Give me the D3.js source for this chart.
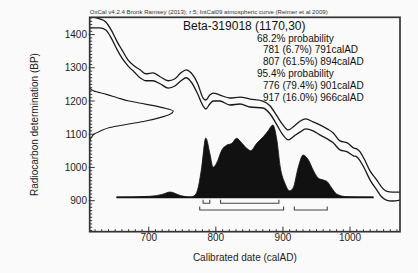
<!DOCTYPE html>
<html>
<head>
<meta charset="utf-8">
<script src="https://cdn.jsdelivr.net/npm/d3@7"></script>
<style>
    body { margin: 0; background: #fafafa; }
    svg { display: block; font-family: "Liberation Sans", Arial, sans-serif; }
</style>
</head>
<body>
<div id="chart"></div>
<script>
// calibration curve (IntCal09), upper and lower edges of the band
const calYears = [612, 627, 636, 644, 653, 660, 669, 678, 687, 696, 706, 717, 729, 739, 748, 756, 763, 773, 781, 785,
    791, 796, 806, 821, 836, 851, 870, 881, 891, 900, 908, 917, 926, 934, 945, 955, 966, 975, 985, 996,
    1005, 1010, 1015, 1021, 1030, 1040, 1046, 1054, 1063, 1075];
const calUpper = [1453, 1447, 1438, 1414, 1378, 1354, 1324, 1306, 1294, 1282, 1285, 1273, 1261, 1267, 1285, 1294, 1285, 1252, 1209, 1203,
    1218, 1224, 1218, 1209, 1212, 1206, 1200, 1185, 1155, 1128, 1113, 1125, 1140, 1146, 1137, 1128, 1116, 1104, 1080, 1074,
    1059, 1056, 1047, 1026, 989, 962, 944, 929, 926, 926];
const calLower = [1420, 1420, 1414, 1390, 1354, 1330, 1306, 1288, 1270, 1261, 1261, 1252, 1239, 1245, 1261, 1270, 1258, 1221, 1185, 1176,
    1191, 1200, 1200, 1188, 1191, 1182, 1179, 1161, 1128, 1098, 1083, 1095, 1107, 1116, 1110, 1098, 1086, 1074, 1053, 1047,
    1035, 1032, 1020, 999, 962, 932, 914, 902, 899, 902];

// radiocarbon date 1170 +/- 30 BP
const dateBP = [1240, 1230, 1220, 1210, 1200, 1190, 1180, 1170, 1160, 1150, 1140, 1130, 1120, 1110, 1100, 1090, 1080];
const dateProb = [0, 0.05, 0.2, 0.33, 0.47, 0.68, 0.87, 1, 0.96, 0.84, 0.67, 0.45, 0.24, 0.13, 0.05, 0.02, 0];

// calibrated distribution
const probYears = [652, 702, 720, 732, 747, 762, 769, 774, 779, 785, 791, 796, 801, 809, 816, 824, 831, 839, 846, 852,
    861, 871, 878, 885, 891, 896, 903, 910, 915, 923, 930, 938, 945, 953, 960, 966, 973, 980, 995, 1035];
const probValues = [0, 0.014, 0.04, 0.073, 0.025, 0.004, 0.03, 0.147, 0.42, 0.82, 0.61, 0.415, 0.47, 0.654, 0.72, 0.747, 0.816, 0.747, 0.678, 0.645,
    0.747, 0.84, 0.92, 1, 0.79, 0.42, 0.194, 0.09, 0.125, 0.42, 0.585, 0.516, 0.378, 0.263, 0.24, 0.216, 0.125, 0.046, 0.008, 0];

const ranges68 = [[781, 791], [807, 894]];
const ranges95 = [[776, 901], [917, 966]];

const xTicks = [700, 800, 900, 1000];
const yTicks = [900, 1000, 1100, 1200, 1300, 1400];

const headerText = "OxCal v4.2.4 Bronk Ramsey (2013); r:5; IntCal09 atmospheric curve (Reimer et al 2009)";
const sampleText = "Beta-319018 (1170,30)";
const probLines = [
    {text: "68.2% probability", indent: false},
    {text: "781 (6.7%) 791calAD", indent: true},
    {text: "807 (61.5%) 894calAD", indent: true},
    {text: "95.4% probability", indent: false},
    {text: "776 (79.4%) 901calAD", indent: true},
    {text: "917 (16.0%) 966calAD", indent: true}
];

drawCalib = function () {
    let width = 418, height = 273;
    let mL = 89.7, mR = 400, mT = 17.3, mB = 231.7;

    let svg = d3.select("#chart").append("svg")
        .attr("width", width)
        .attr("height", height);

    svg.append("rect")
        .attr("width", width).attr("height", height)
        .attr("fill", "#fafafa");

    let x = d3.scaleLinear().domain([612, 1074.5]).range([mL, mR]);
    let y = d3.scaleLinear().domain([806.6, 1452]).range([mB, mT]);

    // clip everything inside the frame
    svg.append("clipPath").attr("id", "clip")
        .append("rect")
        .attr("x", mL).attr("y", mT)
        .attr("width", mR - mL).attr("height", mB - mT);
    let plot = svg.append("g").attr("clip-path", "url(#clip)");

    // calibration curve
    let calLine = d3.line().curve(d3.curveMonotoneX);
    [calUpper, calLower].forEach(series => {
        plot.append("path")
            .attr("d", calLine(calYears.map((yr, i) => [x(yr), y(series[i])])))
            .attr("fill", "none")
            .attr("stroke", "#1a1a1a")
            .attr("stroke-width", 1.3);
    });

    // radiocarbon date on the y axis
    let dateW = d3.scaleLinear().domain([0, 1]).range([mL, mL + 83.6]);
    plot.append("path")
        .attr("d", d3.line().curve(d3.curveMonotoneY)(dateBP.map((bp, i) => [dateW(dateProb[i]), y(bp)])))
        .attr("fill", "none")
        .attr("stroke", "#1a1a1a")
        .attr("stroke-width", 1.1);

    // calibrated distribution
    let baseY = 197.3;
    let pY = d3.scaleLinear().domain([0, 1]).range([baseY, baseY - 72.3]);
    let area = d3.area()
        .curve(d3.curveMonotoneX)
        .x((d, i) => x(probYears[i]))
        .y0(baseY)
        .y1(d => pY(d));
    plot.append("path")
        .attr("d", area(probValues))
        .attr("fill", "#111")
        .attr("stroke", "#111")
        .attr("stroke-width", 0.8);
    plot.append("line")
        .attr("x1", x(probYears[0])).attr("x2", x(probYears[probYears.length - 1]))
        .attr("y1", baseY).attr("y2", baseY)
        .attr("stroke", "#111")
        .attr("stroke-width", 1.8);

    // range brackets
    function bracket(r, yy) {
        let p = d3.path();
        p.moveTo(x(r[0]), yy - 3.5);
        p.lineTo(x(r[0]), yy);
        p.lineTo(x(r[1]), yy);
        p.lineTo(x(r[1]), yy - 3.5);
        plot.append("path")
            .attr("d", p.toString())
            .attr("fill", "none")
            .attr("stroke", "#444")
            .attr("stroke-width", 1.1);
    }
    ranges68.forEach(r => bracket(r, 203.3));
    ranges95.forEach(r => bracket(r, 210));

    // ticks, inward
    d3.range(620, 1075, 10).forEach(t => {
        let major = t % 100 === 0;
        svg.append("line")
            .attr("x1", x(t)).attr("x2", x(t))
            .attr("y1", mB + (major ? 1 : 0)).attr("y2", mB - (major ? 5 : 2.5))
            .attr("stroke", "#333").attr("stroke-width", 1);
    });
    d3.range(810, 1452, 10).forEach(t => {
        let major = t % 100 === 0;
        svg.append("line")
            .attr("y1", y(t)).attr("y2", y(t))
            .attr("x1", mL - (major ? 1 : 0)).attr("x2", mL + (major ? 5 : 2.5))
            .attr("stroke", "#333").attr("stroke-width", 1);
    });

    svg.selectAll(".xl").data(xTicks).enter().append("text")
        .attr("x", d => x(d)).attr("y", 240.5)
        .attr("text-anchor", "middle")
        .attr("font-size", 10).attr("fill", "#222")
        .text(d => d);
    svg.selectAll(".yl").data(yTicks).enter().append("text")
        .attr("x", 87).attr("y", d => y(d) + 3.6)
        .attr("text-anchor", "end")
        .attr("font-size", 10).attr("fill", "#222")
        .text(d => d);

    // frame
    svg.append("rect")
        .attr("x", mL).attr("y", mT)
        .attr("width", mR - mL).attr("height", mB - mT)
        .attr("fill", "none")
        .attr("stroke", "#333")
        .attr("stroke-width", 1.7);

    // texts
    svg.append("text")
        .attr("x", mL).attr("y", 14)
        .attr("font-size", 5.8).attr("fill", "#333")
        .attr("textLength", 238).attr("lengthAdjust", "spacingAndGlyphs")
        .text(headerText);
    svg.append("text")
        .attr("x", 183).attr("y", 29.5)
        .attr("font-size", 12).attr("fill", "#111")
        .text(sampleText);
    probLines.forEach((l, i) => {
        svg.append("text")
            .attr("x", l.indent ? 263 : 257)
            .attr("y", 41.5 + i * 11.8)
            .attr("font-size", 10).attr("fill", "#111")
            .text(l.text);
    });

    svg.append("text")
        .attr("x", (mL + mR) / 2).attr("y", 261)
        .attr("text-anchor", "middle")
        .attr("font-size", 10).attr("fill", "#222")
        .text("Calibrated date (calAD)");
    svg.append("text")
        .attr("transform", "translate(38," + ((mT + mB) / 2) + ") rotate(-90)")
        .attr("text-anchor", "middle")
        .attr("font-size", 10).attr("fill", "#222")
        .text("Radiocarbon determination (BP)");
};

drawCalib();
</script>
</body>
</html>
